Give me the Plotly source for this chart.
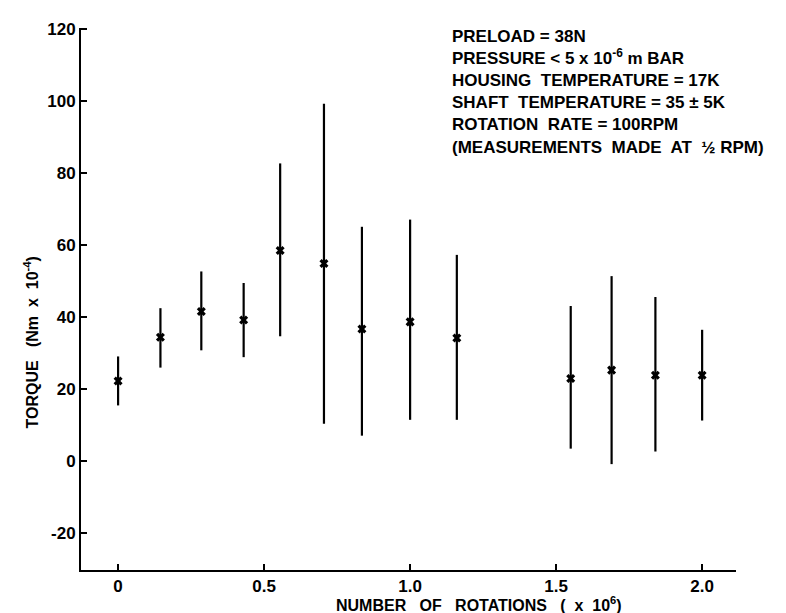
import plotly.graph_objects as go

rotations = [0.0, 0.145, 0.285, 0.43, 0.555, 0.705, 0.835, 1.0, 1.16, 1.55, 1.69, 1.84, 2.0]
torque = [22.3, 34.4, 41.6, 39.2, 58.5, 54.9, 36.7, 38.7, 34.2, 23.0, 25.3, 23.9, 23.9]
torque_high = [29.1, 42.5, 52.7, 49.5, 82.7, 99.3, 65.1, 67.1, 57.3, 43.1, 51.4, 45.6, 36.5]
torque_low = [15.5, 26.0, 30.8, 28.9, 34.7, 10.4, 7.1, 11.5, 11.5, 3.5, -0.8, 2.7, 11.3]

x_tickvals = [0, 0.5, 1.0, 1.5, 2.0]
x_ticktext = ["0", "0.5", "1.0", "1.5", "2.0"]
y_tickvals = [-20, 0, 20, 40, 60, 80, 100, 120]
y_ticktext = ["-20", "0", "20", "40", "60", "80", "100", "120"]

notes = [
    "PRELOAD = 38N",
    "PRESSURE < 5 x 10<sup>-6</sup> m BAR",
    "HOUSING  TEMPERATURE = 17K",
    "SHAFT  TEMPERATURE = 35 ± 5K",
    "ROTATION  RATE = 100RPM",
    "(MEASUREMENTS  MADE  AT  ½ RPM)",
]

err_plus = [h - v for h, v in zip(torque_high, torque)]
err_minus = [v - l for v, l in zip(torque, torque_low)]

FAM = "Liberation Sans, Arial, sans-serif"
L, R, T, B = 73, 58, 14, 51
W, H = 786, 613
PW, PH = W - L - R, H - T - B

fig = go.Figure()
fig.add_trace(go.Scatter(
    x=rotations, y=torque, mode="markers",
    marker=dict(symbol="x", size=8, color="black", line=dict(width=0)),
    error_y=dict(type="data", symmetric=False, array=err_plus, arrayminus=err_minus,
                 color="black", thickness=2.2, width=0),
    showlegend=False,
))

axis_common = dict(
    ticks="inside", ticklen=6, tickwidth=1.5, tickcolor="black",
    showline=True, linecolor="black", linewidth=2, showgrid=False, zeroline=False,
    tickfont=dict(size=17, family=FAM, color="black", weight="bold"),
)

fig.update_layout(
    width=W, height=H,
    margin=dict(l=L, r=R, t=T, b=B),
    paper_bgcolor="white", plot_bgcolor="white",
    font=dict(family=FAM, color="black"),
    xaxis=dict(range=[-0.127, 2.116], tickvals=x_tickvals, ticktext=x_ticktext, **axis_common),
    yaxis=dict(range=[-30.2, 120.3], tickvals=y_tickvals, ticktext=y_ticktext, **axis_common),
)

fig.add_annotation(
    xref="paper", yref="paper",
    x=(442 - L) / PW, y=(H - B - 11) / PH,
    xanchor="left", yanchor="top", align="left",
    text="<br>".join(notes), showarrow=False,
    font=dict(size=17, family=FAM, color="black", weight="bold"),
)

fig.add_annotation(
    xref="paper", yref="paper",
    x=(471 - L) / PW, y=-(609 - (H - B)) / PH,
    xanchor="center", yanchor="bottom",
    text="NUMBER   OF   ROTATIONS   (  x  10<sup>6</sup>)", showarrow=False,
    font=dict(size=16, family=FAM, color="black", weight="bold"),
)

fig.add_annotation(
    xref="paper", yref="paper",
    x=-(L - 23) / PW, y=(H - B - 332) / PH,
    xanchor="center", yanchor="middle", textangle=-90,
    text="TORQUE   (Nm  x  10<sup>-4</sup>)", showarrow=False,
    font=dict(size=16, family=FAM, color="black", weight="bold"),
)

fig.write_html("out.html")
